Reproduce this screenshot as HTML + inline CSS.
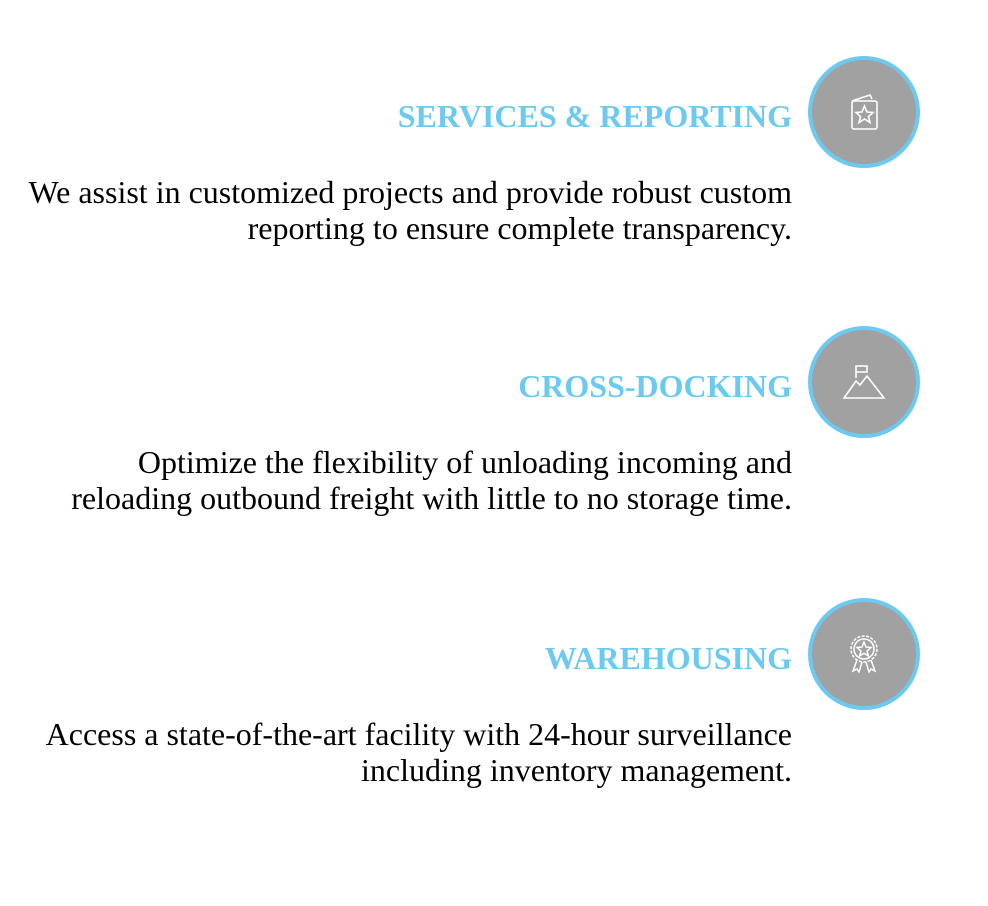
<!DOCTYPE html>
<html><head><meta charset="utf-8"><style>
html,body{margin:0;padding:0;background:#fff;width:988px;height:906px;overflow:hidden;position:relative}
.title{position:absolute;right:196px;font:bold 32px "Liberation Serif",serif;color:#6ccaf1;white-space:nowrap;line-height:1}
.body{position:absolute;right:196px;font:32px "Liberation Serif",serif;color:#000;text-align:right;line-height:36px;white-space:nowrap}
.circle{position:absolute;left:808px;width:104px;height:104px;border:4px solid #6ccaf1;border-radius:50%;background:#a1a1a1;display:flex;align-items:center;justify-content:center}
</style></head><body>
<div>
<div class="title" style="top:100px">SERVICES &amp; REPORTING</div>
<div class="body" style="top:174px">We assist in customized projects and provide robust custom<br>reporting to ensure complete transparency.</div>
<div class="circle" style="top:56px">
<svg width="40" height="40" viewBox="0 0 40 40" fill="none" stroke="#fff" stroke-width="1.6"><path d="M8 9 L26 3 L28 7"/><rect x="8" y="9" width="25" height="28" rx="2"/><path d="M20.5 14 L23 20 L29 20.5 L24.5 24.5 L26 30.5 L20.5 27 L15 30.5 L16.5 24.5 L12 20.5 L18 20 Z"/></svg>
</div>
</div>
<div>
<div class="title" style="top:370px">CROSS-DOCKING</div>
<div class="body" style="top:444px">Optimize the flexibility of unloading incoming and<br>reloading outbound freight with little to no storage time.</div>
<div class="circle" style="top:326px">
<svg width="44" height="40" viewBox="0 0 44 40" fill="none" stroke="#fff" stroke-width="1.6"><rect x="14" y="4" width="11" height="6"/><path d="M14 10 L14 16"/><path d="M2 36 L14 19 L18 23 L25 14 L42 36 Z"/></svg>
</div>
</div>
<div>
<div class="title" style="top:642px">WAREHOUSING</div>
<div class="body" style="top:716px">Access a state-of-the-art facility with 24-hour surveillance<br>including inventory management.</div>
<div class="circle" style="top:598px">
<svg width="40" height="44" viewBox="0 0 40 44" fill="none" stroke="#fff" stroke-width="1.5"><circle cx="20" cy="17" r="13" stroke-dasharray="3 1.5"/><circle cx="20" cy="17" r="10"/><path d="M20 10 L22 15 L27 15.5 L23 19 L24.5 24 L20 21.2 L15.5 24 L17 19 L13 15.5 L18 15 Z"/><path d="M13 28 L9 39 L13 37 L15 40 L18 30"/><path d="M27 28 L31 39 L27 37 L25 40 L22 30"/></svg>
</div>
</div>
</body></html>
